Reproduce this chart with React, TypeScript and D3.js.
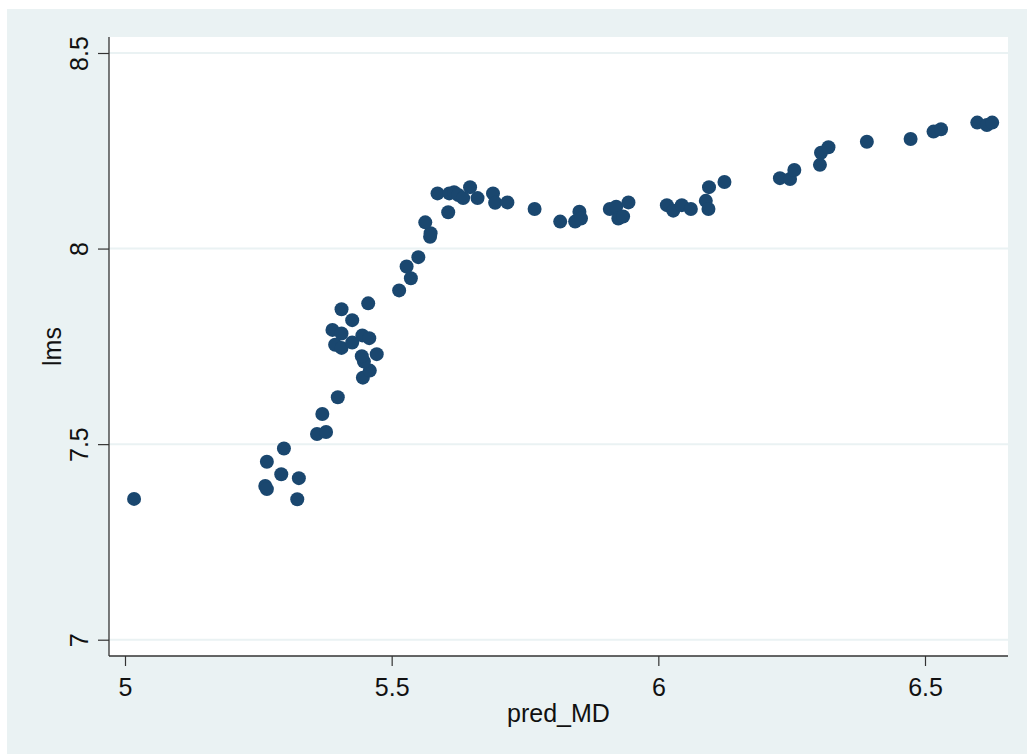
import * as d3 from "d3";
import { useRef, useEffect } from "react";

const width = 1027;
const height = 754;

// plot region (white box) edges
const plotLeft = 109;
const plotRight = 1008;
const plotTop = 37;
const plotBottom = 656;

const xTicks = [5, 5.5, 6, 6.5];
const xTickLabels = ["5", "5.5", "6", "6.5"];
const yTicks = [7, 7.5, 8, 8.5];
const yTickLabels = ["7", "7.5", "8", "8.5"];

const xTitle = "pred_MD";
const yTitle = "lms";

const predMD = [
  5.017, 5.266, 5.298, 5.293, 5.263, 5.266, 5.326, 5.323, 5.36, 5.377,
  5.37, 5.399, 5.446, 5.459, 5.448, 5.444, 5.472, 5.394, 5.406, 5.426,
  5.389, 5.406, 5.445, 5.458, 5.426, 5.406, 5.456, 5.514, 5.536, 5.528,
  5.55, 5.572, 5.573, 5.563, 5.606, 5.586, 5.608, 5.617, 5.625, 5.634,
  5.647, 5.661, 5.69, 5.694, 5.717, 5.768, 5.816, 5.844, 5.852, 5.855,
  5.909, 5.921, 5.925, 5.934, 5.944, 6.016, 6.028, 6.044, 6.061, 6.089,
  6.094, 6.095, 6.124, 6.228, 6.247, 6.255, 6.303, 6.305, 6.319, 6.391,
  6.473, 6.516, 6.53, 6.598, 6.616, 6.626,
];

const lms = [
  7.36, 7.455, 7.489, 7.423, 7.393, 7.385, 7.413, 7.359, 7.526, 7.531,
  7.577, 7.62, 7.67, 7.688, 7.711, 7.725, 7.73, 7.754, 7.746, 7.76,
  7.792, 7.783, 7.778, 7.771, 7.817, 7.845, 7.86, 7.893, 7.924, 7.954,
  7.978, 8.03, 8.039, 8.067, 8.093, 8.141, 8.141, 8.144, 8.137, 8.129,
  8.157, 8.129, 8.141, 8.117, 8.118, 8.101, 8.069, 8.069, 8.094, 8.077,
  8.101, 8.107, 8.077, 8.082, 8.118, 8.111, 8.097, 8.111, 8.101, 8.122,
  8.101, 8.157, 8.17, 8.18, 8.178, 8.201, 8.214, 8.245, 8.259, 8.273,
  8.28, 8.299, 8.305, 8.322, 8.316, 8.322,
];

const points = predMD.map((v, i) => ({ x: v, y: lms[i] }));

const font = "'Liberation Sans', Arial, Helvetica, sans-serif";
const bgColor = "#eaf2f3";
const markerColor = "#1a476f";

// scales anchored on tick positions
const x = d3.scaleLinear().domain([5, 6.5]).range([125, 925]);
const y = d3.scaleLinear().domain([7, 8.5]).range([639.7, 53]);

const App = () => {
  const gx = useRef<SVGGElement>(null);
  const gy = useRef<SVGGElement>(null);

  useEffect(() => {
    if (gx.current) {
      const g = d3.select(gx.current);
      g.call(
        d3
          .axisBottom(x)
          .tickValues(xTicks)
          .tickSize(10)
          .tickSizeOuter(0)
          .tickFormat((_, i) => xTickLabels[i])
      )
        .call((g) => g.select(".domain").remove())
        .attr("font-family", font)
        .attr("font-size", 25);
      g.selectAll(".tick line").attr("stroke", "#333").attr("stroke-width", 1.2);
      g.selectAll(".tick text")
        .attr("y", 40)
        .attr("dy", 0)
        .attr("fill", "#111");
    }
    if (gy.current) {
      const g = d3.select(gy.current);
      g.call(
        d3
          .axisLeft(y)
          .tickValues(yTicks)
          .tickSize(11)
          .tickSizeOuter(0)
          .tickFormat((_, i) => yTickLabels[i])
      )
        .call((g) => g.select(".domain").remove())
        .attr("font-family", font)
        .attr("font-size", 25);
      g.selectAll(".tick line").attr("stroke", "#333").attr("stroke-width", 1.2);
      g.selectAll(".tick text")
        .attr("x", 0)
        .attr("dy", 0)
        .attr("text-anchor", "middle")
        .attr("transform", "translate(-21,0) rotate(-90)")
        .attr("fill", "#111");
    }
    return () => {
      if (gx.current) d3.select(gx.current).selectAll("*").remove();
      if (gy.current) d3.select(gy.current).selectAll("*").remove();
    };
  }, []);

  return (
    <svg
      width={width}
      height={height}
      viewBox={`0 0 ${width} ${height}`}
      style={{ position: "absolute", left: 0, top: 0, background: "#fff" }}
    >
      <rect x={7} y={9} width={width - 7} height={height - 9} fill={bgColor} />
      <rect
        x={plotLeft}
        y={plotTop}
        width={plotRight - plotLeft}
        height={plotBottom - plotTop}
        fill="#fff"
      />

      {yTicks.map((t) => (
        <line
          key={t}
          x1={plotLeft}
          x2={plotRight}
          y1={y(t)}
          y2={y(t)}
          stroke={bgColor}
          strokeWidth={2}
        />
      ))}

      {points.map((p, i) => (
        <circle key={i} cx={x(p.x)} cy={y(p.y)} r={7} fill={markerColor} />
      ))}

      <line
        x1={plotLeft}
        x2={plotLeft}
        y1={plotTop}
        y2={plotBottom}
        stroke="#333"
        strokeWidth={1.3}
      />
      <line
        x1={plotLeft}
        x2={plotRight}
        y1={plotBottom}
        y2={plotBottom}
        stroke="#333"
        strokeWidth={1.3}
      />

      <g ref={gx} transform={`translate(0, ${plotBottom})`} />
      <g ref={gy} transform={`translate(${plotLeft}, 0)`} />

      <text
        x={(plotLeft + plotRight) / 2}
        y={722}
        textAnchor="middle"
        fontFamily={font}
        fontSize={25}
        fill="#111"
      >
        {xTitle}
      </text>
      <text
        transform={`translate(61, ${(plotTop + plotBottom) / 2}) rotate(-90)`}
        textAnchor="middle"
        fontFamily={font}
        fontSize={25}
        fill="#111"
      >
        {yTitle}
      </text>
    </svg>
  );
};

export default App;
